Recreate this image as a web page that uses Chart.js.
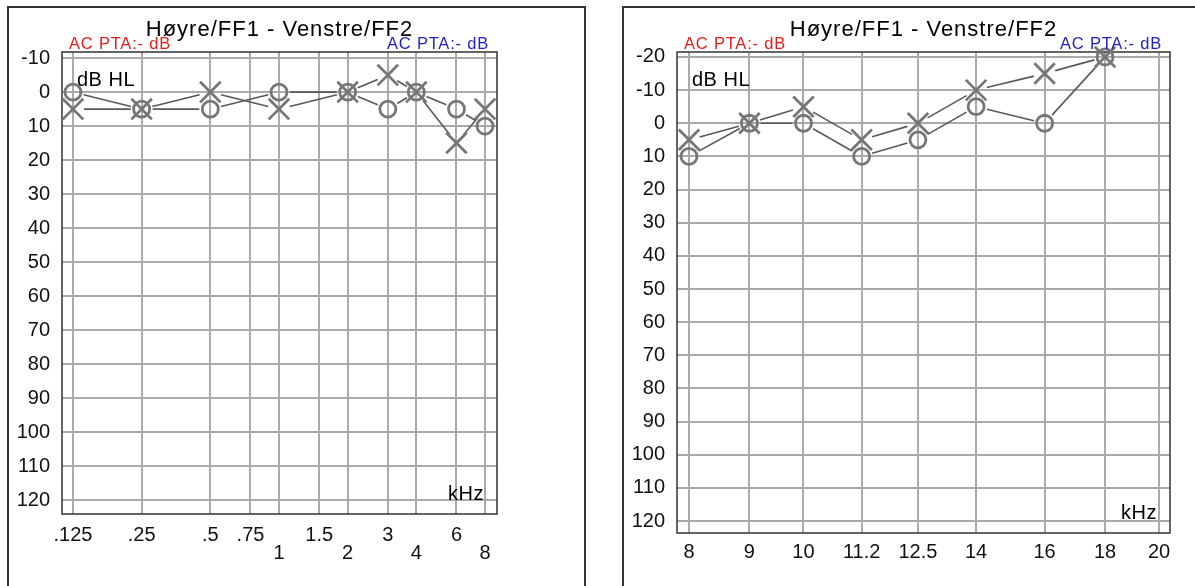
<!DOCTYPE html>
<html>
<head>
<meta charset="utf-8">
<script src="https://cdn.jsdelivr.net/npm/chart.js@4.4.1/dist/chart.umd.min.js"></script>
<style>
    body { margin: 0; background: #fff; width: 1195px; height: 586px; overflow: hidden; position: relative; }
    .panel { position: absolute; top: 6px; height: 620px; border: 2px solid #333; box-sizing: border-box; }
    canvas { position: absolute; }
</style>
</head>
<body>
<div class="panel" style="left:7px; width:579px;"></div>
<div class="panel" style="left:622px; width:620px;"></div>
<canvas id="lowChart" width="577" height="579" style="left:8px; top:7px;"></canvas>
<canvas id="highChart" width="572" height="579" style="left:623px; top:7px;"></canvas>

<script>
// ---- data: standard range (kHz / dB HL) ----
const lowFreqs = [0.125, 0.25, 0.5, 1, 2, 3, 4, 6, 8];
const lowRight = [0, 5, 5, 0, 0, 5, 0, 5, 10];     // Høyre/FF1 (O)
const lowLeft  = [5, 5, 0, 5, 0, -5, 0, 15, 5];    // Venstre/FF2 (X)
const lowTicks = [0.125, 0.25, 0.5, 0.75, 1, 1.5, 2, 3, 4, 6, 8];
const lowTickLabels = ['.125', '.25', '.5', '.75', '1', '1.5', '2', '3', '4', '6', '8'];
const lowSecondRow = ['1', '2', '4', '8'];
const lowDbTicks = [-10, 0, 10, 20, 30, 40, 50, 60, 70, 80, 90, 100, 110, 120];

// ---- data: extended high frequency range ----
const highFreqs = [8, 9, 10, 11.2, 12.5, 14, 16, 18];
const highRight = [10, 0, 0, 10, 5, -5, 0, -20];   // Høyre/FF1 (O)
const highLeft  = [5, 0, -5, 5, 0, -10, -15, -20]; // Venstre/FF2 (X)
const highTicks = [8, 9, 10, 11.2, 12.5, 14, 16, 18, 20];
const highTickLabels = ['8', '9', '10', '11.2', '12.5', '14', '16', '18', '20'];
const highDbTicks = [-20, -10, 0, 10, 20, 30, 40, 50, 60, 70, 80, 90, 100, 110, 120];

const titleText = 'Høyre/FF1 - Venstre/FF2';
const ptaText = 'AC PTA:- dB';
const FONT = "'Liberation Sans', Arial, sans-serif";
const GAP = 11; // lines stop short of the symbols

const audioPlugin = {
    id: 'audio',
    beforeDatasetsDraw(chart) {
        const { ctx, chartArea: a } = chart;
        ctx.save();
        ctx.strokeStyle = '#333';
        ctx.lineWidth = 1.5;
        ctx.strokeRect(a.left, a.top, a.right - a.left, a.bottom - a.top);

        // connecting lines, cut back around each symbol
        ctx.strokeStyle = '#595959';
        ctx.lineWidth = 1.6;
        chart.data.datasets.forEach((ds, i) => {
            const pts = chart.getDatasetMeta(i).data;
            for (let k = 1; k < pts.length; k++) {
                const p0 = pts[k - 1], p1 = pts[k];
                const dx = p1.x - p0.x, dy = p1.y - p0.y;
                const len = Math.hypot(dx, dy);
                if (len <= 2 * GAP) continue;
                const ux = dx / len, uy = dy / len;
                ctx.beginPath();
                ctx.moveTo(p0.x + ux * GAP, p0.y + uy * GAP);
                ctx.lineTo(p1.x - ux * GAP, p1.y - uy * GAP);
                ctx.stroke();
            }
        });
        ctx.restore();
    },
    afterDraw(chart) {
        const { ctx, chartArea: a } = chart;
        ctx.save();
        ctx.textBaseline = 'alphabetic';

        ctx.letterSpacing = '1px';
        ctx.fillStyle = '#000';
        ctx.font = '22px ' + FONT;
        ctx.textAlign = 'center';
        ctx.fillText(titleText, (a.left + a.right) / 2, a.top - 16);

        ctx.letterSpacing = '0.8px';
        ctx.font = '16.5px ' + FONT;
        ctx.textAlign = 'left';
        ctx.fillStyle = '#e3201b';
        ctx.fillText(ptaText, a.left + 7, a.top - 3);
        ctx.textAlign = 'right';
        ctx.fillStyle = '#1f1fc8';
        ctx.fillText(ptaText, a.right - 8, a.top - 3);

        ctx.fillStyle = '#000';
        ctx.letterSpacing = '0.5px';
        ctx.font = '20px ' + FONT;
        ctx.textAlign = 'left';
        ctx.fillText('dB HL', a.left + 15, a.top + 34);
        ctx.textAlign = 'right';
        ctx.fillText('kHz', a.right - 13, a.bottom - 14);
        ctx.restore();
    }
};

const createAudiogram = (id, cfg) => {
    const toPoints = (xs, ys) => xs.map((x, i) => ({ x: x, y: ys[i] }));
    return new Chart(document.getElementById(id), {
        type: 'scatter',
        data: {
            datasets: [{
                label: 'Høyre/FF1',
                data: toPoints(cfg.freqs, cfg.right),
                pointStyle: 'circle',
                pointRadius: 8,
                borderWidth: 2.8,
                borderColor: '#767676',
                backgroundColor: 'rgba(0,0,0,0)',
                clip: false
            }, {
                label: 'Venstre/FF2',
                data: toPoints(cfg.freqs, cfg.left),
                pointStyle: 'crossRot',
                pointRadius: 14.5,
                borderWidth: 2.8,
                borderColor: '#767676',
                backgroundColor: 'rgba(0,0,0,0)',
                clip: false
            }]
        },
        options: {
            responsive: false,
            animation: false,
            events: [],
            layout: { padding: { top: 45, right: cfg.padRight, left: 0, bottom: 0 } },
            plugins: { legend: { display: false }, tooltip: { enabled: false } },
            scales: {
                x: {
                    type: 'logarithmic',
                    min: cfg.xMin,
                    max: cfg.xMax,
                    afterBuildTicks: s => { s.ticks = cfg.ticks.map(v => ({ value: v })); },
                    afterFit: s => { s.height = cfg.xHeight; },
                    grid: { color: '#aaa', lineWidth: 2, drawTicks: false },
                    border: { display: false },
                    ticks: {
                        autoSkip: false,
                        maxRotation: 0,
                        padding: cfg.xPad,
                        color: '#111',
                        font: { family: FONT, size: 20, lineHeight: 0.87 },
                        callback: (v, i) => {
                            const lbl = cfg.tickLabels[i];
                            return cfg.secondRow.includes(lbl) ? ['', lbl] : lbl;
                        }
                    }
                },
                y: {
                    type: 'linear',
                    reverse: true,
                    min: cfg.yMin,
                    max: cfg.yMax,
                    afterBuildTicks: s => { s.ticks = cfg.dbTicks.map(v => ({ value: v })); },
                    afterFit: s => { s.width = 54; },
                    grid: { color: '#aaa', lineWidth: 2, drawTicks: false },
                    border: { display: false },
                    ticks: {
                        padding: 12,
                        color: '#111',
                        font: { family: FONT, size: 20 }
                    }
                }
            }
        },
        plugins: [audioPlugin]
    });
};

createAudiogram('lowChart', {
    freqs: lowFreqs, right: lowRight, left: lowLeft,
    ticks: lowTicks, tickLabels: lowTickLabels, secondRow: lowSecondRow, dbTicks: lowDbTicks,
    xMin: 0.1119, xMax: 9.03, yMin: -11.8, yMax: 124.1,
    padRight: 88, xHeight: 72, xPad: 13
});

createAudiogram('highChart', {
    freqs: highFreqs, right: highRight, left: highLeft,
    ticks: highTicks, tickLabels: highTickLabels, secondRow: [], dbTicks: highDbTicks,
    xMin: 7.815, xMax: 20.43, yMin: -21.5, yMax: 123.6,
    padRight: 25, xHeight: 53, xPad: 11
});
</script>
</body>
</html>
